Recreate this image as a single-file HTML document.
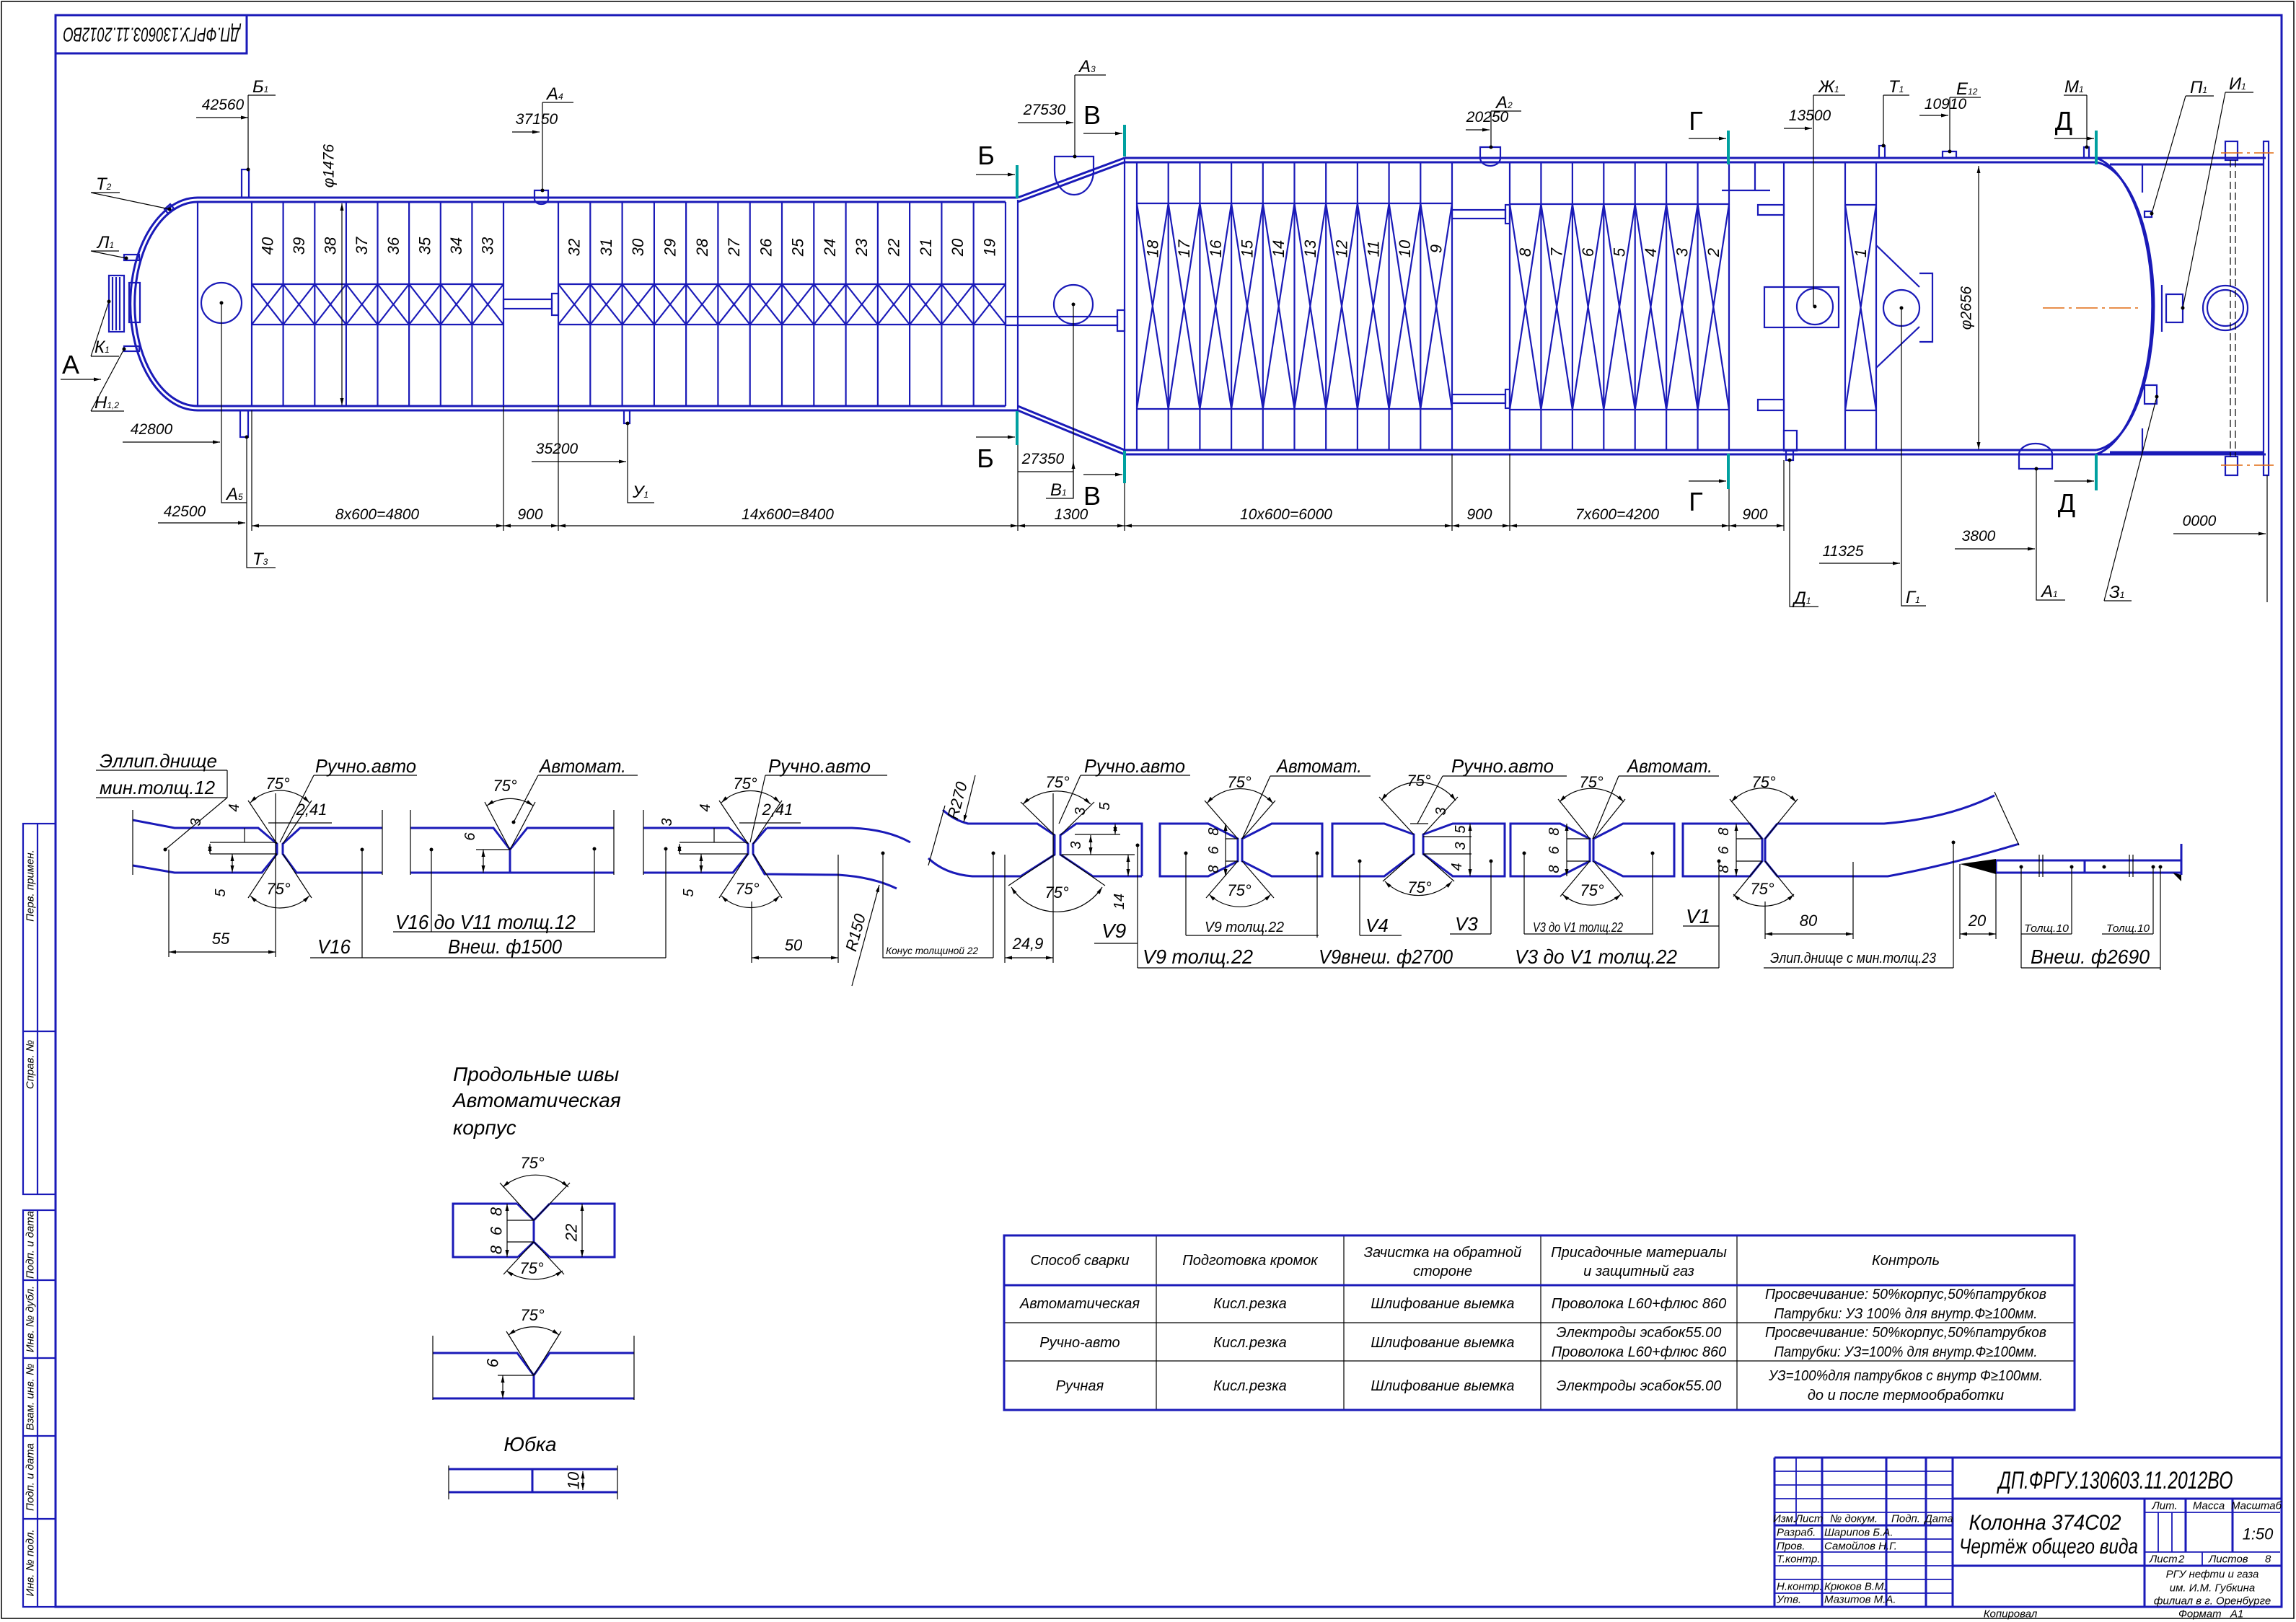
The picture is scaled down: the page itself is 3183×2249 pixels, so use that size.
<!DOCTYPE html>
<html><head><meta charset="utf-8"><style>
html,body{margin:0;padding:0;background:#fff}
svg{display:block}
.b{stroke:#1a1ab8;fill:none;stroke-width:3}
.b2{stroke:#1a1ab8;fill:none;stroke-width:2.2}
.k{stroke:#000;fill:none;stroke-width:1.2}
.tl{stroke:#00a0a0;fill:none;stroke-width:4}
.t{font-family:"Liberation Sans",sans-serif;font-style:italic;fill:#000}
.u{font-family:"Liberation Sans",sans-serif;fill:#000}
.or{stroke:#e06a10;stroke-width:1.5;fill:none;stroke-dasharray:30 6 4 6}
</style></head><body>
<svg width="3183" height="2249" viewBox="0 0 3183 2249" xmlns="http://www.w3.org/2000/svg">
<defs>
<marker id="a" viewBox="0 0 12 6" refX="12" refY="3" markerWidth="12" markerHeight="5" markerUnits="userSpaceOnUse" orient="auto-start-reverse"><path d="M0,0 L12,3 L0,6 z" fill="#000"/></marker>
</defs>
<rect width="3183" height="2249" fill="#fff"/>
<!-- frames -->
<rect x="2" y="2" width="3178" height="2242" fill="none" stroke="#000" stroke-width="1.5"/>
<rect x="77" y="21" width="3086" height="2207" class="b"/>
<rect x="77" y="21" width="265" height="53" class="b"/>
<text class="t" font-size="28" x="210" y="48" text-anchor="middle" dominant-baseline="central" textLength="245" lengthAdjust="spacingAndGlyphs" transform="rotate(180 210 48)">ДП.ФРГУ.130603.11.2012ВО</text>

<!-- left strips -->
<g class="b2">
<rect x="32" y="1142" width="45" height="514"/><path d="M52,1142V1656M32,1430H77"/>
<rect x="32" y="1678" width="45" height="550"/><path d="M52,1678V2228M32,1775H77M32,1883H77M32,1991H77M32,2106H77"/>
</g>
<g class="t" font-size="15" text-anchor="middle" dominant-baseline="central">
<text transform="translate(42,1228) rotate(-90)">Перв. примен.</text>
<text transform="translate(42,1476) rotate(-90)">Справ. №</text>
<text transform="translate(42,1726) rotate(-90)">Подп. и дата</text>
<text transform="translate(42,1829) rotate(-90)">Инв. № дубл.</text>
<text transform="translate(42,1937) rotate(-90)">Взам. инв. №</text>
<text transform="translate(42,2048) rotate(-90)">Подп. и дата</text>
<text transform="translate(42,2167) rotate(-90)">Инв. № подл.</text>
</g>

<!-- ===== COLUMN ===== -->
<g class="b">
<path d="M274,274H1411M274,280H1394M274,563H1394M274,569H1411"/>
<path d="M274,274A93,147 0 0 0 274,569"/>
<path d="M274,280A87,141 0 0 0 274,563"/>
<path d="M1411,274L1559,219M1411,280L1559,225M1411,569L1559,630M1411,563L1559,624"/>
<path d="M1559,219H3141M1559,225H2906M2925,228H3138M1559,624H2906M2925,627H3138M1559,630H3141"/>
<path d="M2906,219A92,208 0 0 1 2906,630"/>
<path d="M2906,225A86,200 0 0 1 2906,624"/>
</g>
<g class="b2">
<path d="M274,280V563M1394,280V563M1411,277V568M1559,219V630M1576,225V624"/>
<path d="M349,280V563M392.6,280V563M436.3,280V563M479.9,280V563M523.5,280V563M567.1,280V563M610.8,280V563M654.4,280V563M698,280V563"/>
<path d="M349,394H698M349,450H698"/>
<path d="M349,394L392.6,450L436.3,394L479.9,450L523.5,394L567.1,450L610.8,394L654.4,450L698,394M349,450L392.6,394L436.3,450L479.9,394L523.5,450L567.1,394L610.8,450L654.4,394L698,450"/>
<path d="M774,280V563M818.3,280V563M862.6,280V563M906.9,280V563M951.1,280V563M995.4,280V563M1039.7,280V563M1084,280V563M1128.3,280V563M1172.6,280V563M1216.9,280V563M1261.1,280V563M1305.4,280V563M1349.7,280V563"/>
<path d="M774,394H1394M774,450H1394"/>
<path d="M774,394L818.3,450L862.6,394L906.9,450L951.1,394L995.4,450L1039.7,394L1084,450L1128.3,394L1172.6,450L1216.9,394L1261.1,450L1305.4,394L1349.7,450L1394,394M774,450L818.3,394L862.6,450L906.9,394L951.1,450L995.4,394L1039.7,450L1084,394L1128.3,450L1172.6,394L1216.9,450L1261.1,394L1305.4,450L1349.7,394L1394,450"/>
<path d="M1619.7,225V624M1663.4,225V624M1707.1,225V624M1750.8,225V624M1794.5,225V624M1838.2,225V624M1881.9,225V624M1925.6,225V624M1969.3,225V624M2013,225V624"/>
<path d="M1576,282H2013M1576,567H2013"/>
<path d="M1576,282L1619.7,567L1663.4,282L1707.1,567L1750.8,282L1794.5,567L1838.2,282L1881.9,567L1925.6,282L1969.3,567L2013,282M1576,567L1619.7,282L1663.4,567L1707.1,282L1750.8,567L1794.5,282L1838.2,567L1881.9,282L1925.6,567L1969.3,282L2013,567"/>
<path d="M2093,225V624M2136.4,225V624M2179.9,225V624M2223.3,225V624M2266.7,225V624M2310.1,225V624M2353.6,225V624M2397,225V624"/>
<path d="M2093,283H2397M2093,568H2397"/>
<path d="M2093,283L2136.4,568L2179.9,283L2223.3,568L2266.7,283L2310.1,568L2353.6,283L2397,568M2093,568L2136.4,283L2179.9,568L2223.3,283L2266.7,568L2310.1,283L2353.6,568L2397,283"/>
<path d="M2387,264H2454M2433,225V264M2473,225V624M2558,225V624M2601,225V624"/>
<rect x="2437" y="284" width="36" height="14"/><rect x="2437" y="554" width="36" height="15"/>
<rect x="2446" y="398" width="103" height="56"/>
<circle cx="2516" cy="425" r="25"/>
<path d="M2558,284H2601M2558,569H2601M2558,284L2601,569M2601,284L2558,569"/>
<path d="M2601,340L2661,398M2601,510L2661,453M2661,379H2679V474H2661"/>
<circle cx="2636" cy="427" r="25"/>
<rect x="2473" y="597" width="18" height="28"/>
<path d="M2970,228V267M2970,594V627"/>
<rect x="3138" y="196" width="7" height="463"/>
<rect x="3085" y="196" width="17" height="26"/><rect x="3085" y="633" width="17" height="26"/>
<circle cx="3085" cy="427" r="31"/><circle cx="3085" cy="427" r="25"/>
<rect x="335" y="235" width="10" height="39"/>
<rect x="333" y="569" width="11" height="37"/>
<path d="M741,264H760V276A9.5,7 0 0 1 741,276Z"/>
<rect x="865" y="569" width="8" height="18"/>
<rect x="172" y="353" width="21" height="8"/>
<rect x="172" y="480" width="21" height="7"/>
<rect x="179" y="392" width="15" height="55"/>
<rect x="151" y="382" width="21" height="78"/>
<path d="M156,384V458M161,384V458M166,384V458"/>
<path d="M228,290L236,283L241,289L233,296Z"/>
<circle cx="307" cy="420" r="28"/>
<rect x="698" y="415" width="67" height="13"/><rect x="765" y="407" width="9" height="30"/>
<rect x="1394" y="439" width="155" height="12"/><rect x="1549" y="430" width="10" height="29"/>
<circle cx="1488" cy="422" r="27"/>
<path d="M1462,217H1516V237A27,33 0 0 1 1462,237Z"/>
<rect x="2013" y="291" width="74" height="12"/><rect x="2087" y="284" width="6" height="26"/>
<rect x="2013" y="547" width="74" height="12"/><rect x="2087" y="540" width="6" height="26"/>
<path d="M2052,204H2080V219A14,11 0 0 1 2052,219Z"/>
<rect x="2476" y="625" width="10" height="13"/>
<rect x="2605" y="202" width="8" height="17"/>
<rect x="2693" y="210" width="19" height="9"/>
<rect x="2889" y="204" width="7" height="15"/>
<path d="M2799,650V630A23,15 0 0 1 2845,630V650Z"/>
<rect x="3003" y="408" width="23" height="39"/><path d="M2997,395V460"/>
<rect x="2973" y="293" width="10" height="8"/>
<rect x="2973" y="534" width="17" height="26"/>
</g>
<path d="M3092,222V633M3099,222V633" stroke="#000" stroke-width="1.2" stroke-dasharray="10 5" fill="none"/>
<path class="or" d="M3079,212H3152M3079,645H3152M2832,427H2964"/>

<!-- tray numbers -->
<g class="t" font-size="22" text-anchor="middle" dominant-baseline="central">
<text transform="translate(370.8,341) rotate(-90)">40</text>
<text transform="translate(414.4,341) rotate(-90)">39</text>
<text transform="translate(458.1,341) rotate(-90)">38</text>
<text transform="translate(501.7,341) rotate(-90)">37</text>
<text transform="translate(545.3,341) rotate(-90)">36</text>
<text transform="translate(589,341) rotate(-90)">35</text>
<text transform="translate(632.6,341) rotate(-90)">34</text>
<text transform="translate(676.2,341) rotate(-90)">33</text>
<text transform="translate(796.1,343) rotate(-90)">32</text>
<text transform="translate(840.4,343) rotate(-90)">31</text>
<text transform="translate(884.7,343) rotate(-90)">30</text>
<text transform="translate(929,343) rotate(-90)">29</text>
<text transform="translate(973.3,343) rotate(-90)">28</text>
<text transform="translate(1017.6,343) rotate(-90)">27</text>
<text transform="translate(1061.9,343) rotate(-90)">26</text>
<text transform="translate(1106.1,343) rotate(-90)">25</text>
<text transform="translate(1150.4,343) rotate(-90)">24</text>
<text transform="translate(1194.7,343) rotate(-90)">23</text>
<text transform="translate(1239,343) rotate(-90)">22</text>
<text transform="translate(1283.3,343) rotate(-90)">21</text>
<text transform="translate(1327.6,343) rotate(-90)">20</text>
<text transform="translate(1371.9,343) rotate(-90)">19</text>
<text transform="translate(1597.9,345) rotate(-90)">18</text>
<text transform="translate(1641.6,345) rotate(-90)">17</text>
<text transform="translate(1685.3,345) rotate(-90)">16</text>
<text transform="translate(1729,345) rotate(-90)">15</text>
<text transform="translate(1772.7,345) rotate(-90)">14</text>
<text transform="translate(1816.4,345) rotate(-90)">13</text>
<text transform="translate(1860.1,345) rotate(-90)">12</text>
<text transform="translate(1903.8,345) rotate(-90)">11</text>
<text transform="translate(1947.5,345) rotate(-90)">10</text>
<text transform="translate(1991.2,345) rotate(-90)">9</text>
<text transform="translate(2114.7,350) rotate(-90)">8</text>
<text transform="translate(2158.1,350) rotate(-90)">7</text>
<text transform="translate(2201.6,350) rotate(-90)">6</text>
<text transform="translate(2245,350) rotate(-90)">5</text>
<text transform="translate(2288.4,350) rotate(-90)">4</text>
<text transform="translate(2331.9,350) rotate(-90)">3</text>
<text transform="translate(2375.3,350) rotate(-90)">2</text>
<text transform="translate(2579.5,351) rotate(-90)">1</text>
<text transform="translate(456,230) rotate(-90)" font-size="21">φ1476</text>
<text transform="translate(2726,427) rotate(-90)" font-size="21">φ2656</text>
</g>

<!-- section marks -->
<g class="tl"><path d="M1410,229V275M1410,570V617M1559,173V217M1559,625V670M2396,181V228M2396,629V678M2906,181V228M2906,630V680"/></g>
<g class="k" marker-end="url(#a)">
<path d="M1353,242H1407"/><path d="M1353,606H1407"/>
<path d="M1502,185H1556"/><path d="M1502,658H1556"/>
<path d="M2341,192H2393"/><path d="M2341,667H2393"/>
<path d="M2848,192H2903"/><path d="M2848,667H2903"/>
<path d="M84,526H140"/>
</g>
<g class="u" font-size="36" text-anchor="middle">
<text x="1367" y="228">Б</text><text x="1366" y="648">Б</text>
<text x="1514" y="172">В</text><text x="1514" y="700">В</text>
<text x="2351" y="180">Г</text><text x="2351" y="708">Г</text>
<text x="2861" y="180">Д</text><text x="2865" y="710">Д</text>
<text x="98" y="518">А</text>
</g>

<!-- leaders / dims top -->
<g class="k">
<path d="M344,132H382M344,132V235"/>
<path d="M752,142H795M752,142V264"/>
<path d="M126,267H166M126,267L235,290"/>
<path d="M126,348H165M126,348L175,358"/>
<path d="M126,494H165M126,494L151,418"/>
<path d="M126,570H172M126,570L172,484"/>
<path d="M307,420V697H342"/>
<path d="M342,606V787H382"/>
<path d="M870,587V697H907"/>
<path d="M1490,104H1533M1490,104V217"/>
<path d="M1488,422V691H1450M1411,654H1488"/>
<path d="M2067,154H2109M2067,154V204"/>
<path d="M2514,132H2558M2514,132V425"/>
<path d="M2611,132H2647M2611,132V202"/>
<path d="M2703,135H2746M2703,135V210"/>
<path d="M2861,132H2893M2893,132V204"/>
<path d="M3030,133H3069M3030,133L2983,296"/>
<path d="M3085,128H3124M3085,128L3026,427"/>
<path d="M2481,638V841H2521"/>
<path d="M2636,427V840H2670"/>
<path d="M2823,650V832H2863"/>
<path d="M2917,833H2955M2917,833L2990,550"/>
<path d="M3143,659V835"/>
<path d="M349,569V736M698,563V736M774,563V736M1411,617V736M1559,670V736M2013,630V736M2093,630V736M2397,678V736M2473,638V736"/>
</g>
<g class="k" marker-end="url(#a)">
<path d="M272,163H344"/><path d="M710,183H748"/><path d="M170,613H305"/><path d="M219,725H340"/>
<path d="M737,640H868"/><path d="M1411,170H1488"/><path d="M1488,690V640"/>
<path d="M2032,180H2065"/><path d="M2473,178H2512"/><path d="M2661,160H2701"/>
<path d="M2522,781H2634"/><path d="M2710,761H2821"/><path d="M3013,740H3141"/>
</g>
<g class="k" marker-start="url(#a)" marker-end="url(#a)">
<path d="M349,729H698"/><path d="M698,729H774"/><path d="M774,729H1411"/><path d="M1411,729H1559"/>
<path d="M1559,729H2013"/><path d="M2013,729H2093"/><path d="M2093,729H2397"/><path d="M2397,729H2473"/>
<path d="M474,282V562"/><path d="M2743,230V623"/>
</g>
<g class="t" font-size="21" text-anchor="middle">
<text x="309" y="152">42560</text><text x="744" y="172">37150</text>
<text x="210" y="602">42800</text><text x="256" y="716">42500</text>
<text x="772" y="629">35200</text>
<text x="1448" y="159">27530</text><text x="1446" y="643">27350</text>
<text x="2062" y="169">20250</text><text x="2509" y="167">13500</text><text x="2697" y="151">10910</text>
<text x="2555" y="771">11325</text><text x="2743" y="750">3800</text><text x="3049" y="729">0000</text>
<text x="523" y="720">8x600=4800</text><text x="735" y="720">900</text>
<text x="1092" y="720">14x600=8400</text><text x="1485" y="720">1300</text>
<text x="1783" y="720">10x600=6000</text><text x="2051" y="720">900</text>
<text x="2242" y="720">7x600=4200</text><text x="2433" y="720">900</text>
</g>
<g class="t" font-size="24">
<text x="350" y="128">Б<tspan font-size="12">1</tspan></text>
<text x="758" y="138">А<tspan font-size="12">4</tspan></text>
<text x="133" y="263">Т<tspan font-size="12">2</tspan></text>
<text x="135" y="344">Л<tspan font-size="12">1</tspan></text>
<text x="131" y="489">К<tspan font-size="12">1</tspan></text>
<text x="131" y="566">Н<tspan font-size="12">1,2</tspan></text>
<text x="314" y="693">А<tspan font-size="12">5</tspan></text>
<text x="350" y="783">Т<tspan font-size="12">3</tspan></text>
<text x="877" y="690">У<tspan font-size="12">1</tspan></text>
<text x="1496" y="100">А<tspan font-size="12">3</tspan></text>
<text x="1456" y="687">В<tspan font-size="12">1</tspan></text>
<text x="2074" y="150">А<tspan font-size="12">2</tspan></text>
<text x="2521" y="128">Ж<tspan font-size="12">1</tspan></text>
<text x="2618" y="128">Т<tspan font-size="12">1</tspan></text>
<text x="2712" y="131">Е<tspan font-size="12">12</tspan></text>
<text x="2862" y="128">М<tspan font-size="12">1</tspan></text>
<text x="3036" y="129">П<tspan font-size="12">1</tspan></text>
<text x="3090" y="124">И<tspan font-size="12">1</tspan></text>
<text x="2487" y="837">Д<tspan font-size="12">1</tspan></text>
<text x="2642" y="836">Г<tspan font-size="12">1</tspan></text>
<text x="2830" y="828">А<tspan font-size="12">1</tspan></text>
<text x="2924" y="829">З<tspan font-size="12">1</tspan></text>
</g>

<!-- ===== WELD DETAILS ROW ===== -->
<g class="b">
<path d="M184,1137L242,1148H358L384,1170V1184L363,1210H242L184,1200"/>
<path d="M530,1148H416L392,1170V1184L411,1210H530"/>
<path d="M569,1148H684L707,1178L731,1148H851M569,1210H851M707,1178V1210"/>
<path d="M892,1148H1010L1037,1170V1184L1016,1210H892"/>
<path d="M1063,1148L1044,1170V1184L1060,1212L1162,1213Q1210,1216 1243,1232M1063,1148H1181Q1230,1150 1262,1168"/>
<path d="M1307,1123Q1322,1137 1342,1142H1438L1462,1158V1185L1415,1215H1348Q1310,1212 1287,1190"/>
<path d="M1583,1215V1142H1492L1470,1158V1185L1515,1215H1583"/>
<path d="M1608,1142H1675L1716,1163V1194L1675,1215H1608Z"/>
<path d="M1833,1142H1763L1722,1163V1194L1763,1215H1833Z"/>
<path d="M1847,1142H1919L1960,1157V1184L1919,1215H1847Z"/>
<path d="M2086,1142H2014L1973,1157V1184L2014,1215H2086Z"/>
<path d="M2094,1142H2163L2204,1163V1194L2163,1215H2094Z"/>
<path d="M2321,1142H2250L2209,1163V1194L2250,1215H2321Z"/>
<path d="M2333,1142H2426L2443,1163V1194L2426,1215H2333Z"/>
<path d="M2464,1142L2447,1163V1194L2464,1215H2617Q2700,1200 2799,1170M2464,1142H2612Q2700,1135 2765,1103"/>
<path d="M2767,1193H3024M2767,1210H3024M2890,1193V1210M3024,1170V1213M2767,1193V1210"/>
</g>
<path d="M2717,1198L2767,1191V1212Z" fill="#000"/>
<path d="M3024,1213L3012,1210L3024,1222Z" fill="#000"/>
<g class="k">
<path d="M184,1123V1213M530,1123V1213M569,1123V1213M851,1123V1213M892,1123V1213M1287,1200L1310,1117M2765,1098L2799,1172"/>
<path d="M2827,1185V1216M2832,1185V1216M2952,1185V1216M2957,1185V1216"/>
<path d="M384,1170L344,1110M392,1170L432,1110M384,1184L344,1245M392,1184L432,1245"/>
<path d="M291,1168H384M291,1184H384M339,1148V1168M372,1141H460M133,1068H315M133,1106H315M315,1068V1106M315,1106L229,1178"/>
<path d="M435,1075H578M435,1075L388,1168"/>
<path d="M234,1178V1327M382,1100V1327M430,1328H923M502,1178V1328M923,1177V1328"/>
<path d="M707,1178L672,1112M707,1178L742,1112M660,1178H707M746,1075H884M746,1075L712,1140M545,1292H825M598,1178V1292M824,1177V1292"/>
<path d="M1037,1170L997,1110M1044,1170L1084,1110M1037,1184L997,1245M1044,1184L1084,1245"/>
<path d="M942,1168H1037M942,1184H1037M990,1148V1168M1025,1141H1110M1061,1075H1230M1061,1075L1040,1168"/>
<path d="M1162,1185V1335M1042,1250V1335M1224,1183V1328H1377M1377,1183V1328"/>
<path d="M1462,1158L1415,1112M1470,1158L1517,1112M1462,1185L1398,1228M1470,1185L1532,1228"/>
<path d="M1490,1157H1553M1472,1185H1573M1393,1185V1335M1460,1100V1335M1517,1308H1577M1577,1172V1342M1498,1075H1650M1498,1075L1468,1142"/>
<path d="M1716,1163L1670,1110M1722,1163L1768,1110M1716,1194L1672,1245M1722,1194L1766,1245"/>
<path d="M1699,1163H1716M1699,1194H1716M1761,1076H1900M1761,1076L1722,1163M1644,1297H1828M1644,1183V1297M1826,1183V1300"/>
<path d="M1960,1157L1912,1105M1973,1157L2021,1105M1960,1184L1917,1222M1973,1184L2016,1222"/>
<path d="M1973,1160H2040M1973,1184H2040M1955,1142H1980M2000,1076H2172M2000,1076L1965,1142M1885,1297H1943M1885,1194V1297M2010,1295H2067M2067,1194V1295"/>
<path d="M2204,1163L2160,1108M2209,1163L2253,1108M2204,1194L2163,1243M2209,1194L2250,1243"/>
<path d="M2172,1163H2204M2172,1194H2204M2244,1076H2383M2244,1076L2208,1163M2113,1295H2292M2113,1183V1295M2291,1183V1295"/>
<path d="M2443,1163L2398,1108M2447,1163L2492,1108M2443,1194L2403,1243M2447,1194L2487,1243"/>
<path d="M2407,1163H2443M2407,1194H2443M2333,1284H2383M2383,1194V1342M2569,1195V1302M2447,1250V1302M2445,1342H2708M2708,1168V1342"/>
<path d="M2717,1198V1302M2767,1210V1302M2802,1295H2872M2872,1202V1295M2914,1295H2985M2985,1202V1295M2802,1342H2995M2802,1202V1342M2995,1202V1345"/>
<path d="M1577,1342H2383"/>
<path marker-start="url(#a)" marker-end="url(#a)" d="M347,1113A58,58 0 0 1 429,1113"/>
<path marker-start="url(#a)" marker-end="url(#a)" d="M347,1242A58,58 0 0 0 429,1242"/>
<path marker-start="url(#a)" marker-end="url(#a)" d="M675,1117A58,58 0 0 1 739,1117"/>
<path marker-start="url(#a)" marker-end="url(#a)" d="M1000,1113A58,58 0 0 1 1081,1113"/>
<path marker-start="url(#a)" marker-end="url(#a)" d="M1000,1242A58,58 0 0 0 1081,1242"/>
<path marker-start="url(#a)" marker-end="url(#a)" d="M1418,1115A70,70 0 0 1 1512,1115"/>
<path marker-start="url(#a)" marker-end="url(#a)" d="M1402,1230A75,75 0 0 0 1528,1230"/>
<path marker-start="url(#a)" marker-end="url(#a)" d="M1673,1114A62,62 0 0 1 1765,1114"/>
<path marker-start="url(#a)" marker-end="url(#a)" d="M1676,1240A62,62 0 0 0 1762,1240"/>
<path marker-start="url(#a)" marker-end="url(#a)" d="M1915,1110A65,65 0 0 1 2018,1110"/>
<path marker-start="url(#a)" marker-end="url(#a)" d="M1920,1222A65,65 0 0 0 2013,1222"/>
<path marker-start="url(#a)" marker-end="url(#a)" d="M2162,1112A62,62 0 0 1 2251,1112"/>
<path marker-start="url(#a)" marker-end="url(#a)" d="M2166,1240A62,62 0 0 0 2247,1240"/>
<path marker-start="url(#a)" marker-end="url(#a)" d="M2400,1112A62,62 0 0 1 2490,1112"/>
<path marker-start="url(#a)" marker-end="url(#a)" d="M2403,1240A62,62 0 0 0 2487,1240"/>
<path marker-start="url(#a)" marker-end="url(#a)" d="M291,1170V1184"/>
<path marker-start="url(#a)" marker-end="url(#a)" d="M322,1184V1210"/>
<path marker-start="url(#a)" marker-end="url(#a)" d="M670,1178V1210"/>
<path marker-start="url(#a)" marker-end="url(#a)" d="M942,1170V1184"/>
<path marker-start="url(#a)" marker-end="url(#a)" d="M972,1184V1210"/>
<path marker-start="url(#a)" marker-end="url(#a)" d="M1546,1142V1157"/>
<path marker-start="url(#a)" marker-end="url(#a)" d="M1512,1158V1185"/>
<path marker-start="url(#a)" marker-end="url(#a)" d="M1564,1185V1215"/>
<path marker-start="url(#a)" marker-end="url(#a)" d="M1699,1142V1215"/>
<path marker-start="url(#a)" marker-end="url(#a)" d="M2038,1142V1215"/>
<path marker-start="url(#a)" marker-end="url(#a)" d="M2172,1142V1215"/>
<path marker-start="url(#a)" marker-end="url(#a)" d="M2407,1142V1215"/>
<path marker-start="url(#a)" marker-end="url(#a)" d="M234,1320H382"/>
<path marker-start="url(#a)" marker-end="url(#a)" d="M1042,1328H1162"/>
<path marker-start="url(#a)" marker-end="url(#a)" d="M1393,1328H1460"/>
<path marker-start="url(#a)" marker-end="url(#a)" d="M2447,1295H2569"/>
<path marker-start="url(#a)" marker-end="url(#a)" d="M2717,1295H2767"/>
<path marker-end="url(#a)" d="M1181,1367L1219,1227"/>
<path marker-end="url(#a)" d="M1352,1075L1336,1140"/>
</g>
<g class="t" font-size="22" text-anchor="middle">
<text x="385" y="1094">75°</text><text x="386" y="1240">75°</text>
<text x="700" y="1097">75°</text>
<text x="1033" y="1094">75°</text><text x="1036" y="1240">75°</text>
<text x="1466" y="1092">75°</text><text x="1465" y="1245">75°</text>
<text x="1718" y="1092">75°</text><text x="1718" y="1242">75°</text>
<text x="1967" y="1090">75°</text><text x="1968" y="1238">75°</text>
<text x="2206" y="1092">75°</text><text x="2207" y="1242">75°</text>
<text x="2445" y="1092">75°</text><text x="2443" y="1240">75°</text>
<text x="432" y="1130">2,41</text><text x="1078" y="1130">2,41</text>
<text x="306" y="1309">55</text><text x="1100" y="1318">50</text><text x="1425" y="1316">24,9</text>
<text x="2507" y="1284">80</text><text x="2741" y="1284">20</text>
</g>
<g class="t" font-size="20" text-anchor="middle" dominant-baseline="central">
<text transform="translate(272,1140) rotate(-90)">3</text>
<text transform="translate(325,1120) rotate(-90)">4</text>
<text transform="translate(306,1238) rotate(-90)">5</text>
<text transform="translate(652,1160) rotate(-90)">6</text>
<text transform="translate(925,1140) rotate(-90)">3</text>
<text transform="translate(978,1120) rotate(-90)">4</text>
<text transform="translate(955,1238) rotate(-90)">5</text>
<text transform="translate(1498,1125) rotate(-90)">3</text>
<text transform="translate(1532,1118) rotate(-90)">5</text>
<text transform="translate(1492,1172) rotate(-90)">3</text>
<text transform="translate(1552,1250) rotate(-90)">14</text>
<text transform="translate(1683,1153) rotate(-90)">8</text>
<text transform="translate(1683,1179) rotate(-90)">6</text>
<text transform="translate(1683,1205) rotate(-90)">8</text>
<text transform="translate(1998,1125) rotate(-90)">3</text>
<text transform="translate(2025,1150) rotate(-90)">5</text>
<text transform="translate(2025,1173) rotate(-90)">3</text>
<text transform="translate(2020,1202) rotate(-90)">4</text>
<text transform="translate(2155,1153) rotate(-90)">8</text>
<text transform="translate(2155,1179) rotate(-90)">6</text>
<text transform="translate(2155,1205) rotate(-90)">8</text>
<text transform="translate(2390,1153) rotate(-90)">8</text>
<text transform="translate(2390,1179) rotate(-90)">6</text>
<text transform="translate(2390,1205) rotate(-90)">8</text>
<text transform="translate(1186,1293) rotate(-75)" font-size="22">R150</text>
<text transform="translate(1327,1110) rotate(-75)" font-size="22">R270</text>
</g>
<g class="t" font-size="26">
<text x="138" y="1064" textLength="163" lengthAdjust="spacingAndGlyphs">Эллип.днище</text>
<text x="138" y="1101" textLength="160" lengthAdjust="spacingAndGlyphs">мин.толщ.12</text>
<text x="437" y="1071" textLength="140" lengthAdjust="spacingAndGlyphs">Ручно.авто</text>
<text x="748" y="1071" textLength="120" lengthAdjust="spacingAndGlyphs">Автомат.</text>
<text x="1065" y="1071" textLength="142" lengthAdjust="spacingAndGlyphs">Ручно.авто</text>
<text x="1503" y="1071" textLength="140" lengthAdjust="spacingAndGlyphs">Ручно.авто</text>
<text x="1770" y="1071" textLength="118" lengthAdjust="spacingAndGlyphs">Автомат.</text>
<text x="2012" y="1071" textLength="142" lengthAdjust="spacingAndGlyphs">Ручно.авто</text>
<text x="2256" y="1071" textLength="118" lengthAdjust="spacingAndGlyphs">Автомат.</text>
<text x="548" y="1288" font-size="28" textLength="250" lengthAdjust="spacingAndGlyphs">V16 до V11 толщ.12</text>
<text x="440" y="1322" font-size="28" textLength="46" lengthAdjust="spacingAndGlyphs">V16</text>
<text x="621" y="1322" font-size="28" textLength="158" lengthAdjust="spacingAndGlyphs">Внеш. ф1500</text>
<text x="1228" y="1323" font-size="14" textLength="128" lengthAdjust="spacingAndGlyphs">Конус толщиной 22</text>
<text x="1527" y="1300" font-size="28">V9</text>
<text x="1670" y="1292" font-size="20" textLength="110" lengthAdjust="spacingAndGlyphs">V9 толщ.22</text>
<text x="1893" y="1292" font-size="26">V4</text>
<text x="2017" y="1290" font-size="26">V3</text>
<text x="2125" y="1292" font-size="18" textLength="125" lengthAdjust="spacingAndGlyphs">V3 до V1 толщ.22</text>
<text x="2337" y="1280" font-size="28">V1</text>
<text x="1584" y="1336" font-size="28" textLength="153" lengthAdjust="spacingAndGlyphs">V9 толщ.22</text>
<text x="1828" y="1336" font-size="28" textLength="186" lengthAdjust="spacingAndGlyphs">V9внеш. ф2700</text>
<text x="2100" y="1336" font-size="28" textLength="225" lengthAdjust="spacingAndGlyphs">V3 до V1 толщ.22</text>
<text x="2454" y="1335" font-size="20" textLength="230" lengthAdjust="spacingAndGlyphs">Элип.днище с мин.толщ.23</text>
<text x="2806" y="1292" font-size="15" textLength="62" lengthAdjust="spacingAndGlyphs">Толщ.10</text>
<text x="2920" y="1292" font-size="15" textLength="60" lengthAdjust="spacingAndGlyphs">Толщ.10</text>
<text x="2815" y="1336" font-size="28" textLength="165" lengthAdjust="spacingAndGlyphs">Внеш. ф2690</text>
</g>
<g fill="#000">
<circle cx="229" cy="1178" r="2.5"/><circle cx="502" cy="1178" r="2.5"/><circle cx="598" cy="1178" r="2.5"/><circle cx="712" cy="1140" r="2.5"/>
<circle cx="824" cy="1177" r="2.5"/><circle cx="923" cy="1177" r="2.5"/><circle cx="1224" cy="1183" r="2.5"/><circle cx="1377" cy="1183" r="2.5"/>
<circle cx="1577" cy="1172" r="2.5"/><circle cx="1644" cy="1183" r="2.5"/><circle cx="1826" cy="1183" r="2.5"/><circle cx="1885" cy="1194" r="2.5"/>
<circle cx="2067" cy="1194" r="2.5"/><circle cx="2113" cy="1183" r="2.5"/><circle cx="2291" cy="1183" r="2.5"/><circle cx="2383" cy="1194" r="2.5"/>
<circle cx="2708" cy="1168" r="2.5"/><circle cx="2802" cy="1202" r="2.5"/><circle cx="2872" cy="1202" r="2.5"/><circle cx="2917" cy="1202" r="2.5"/>
<circle cx="2985" cy="1202" r="2.5"/><circle cx="2995" cy="1202" r="2.5"/>
<circle cx="344" cy="235" r="2.5"/><circle cx="752" cy="264" r="2.5"/><circle cx="307" cy="420" r="2.5"/><circle cx="342" cy="606" r="2.5"/>
<circle cx="870" cy="587" r="2.5"/><circle cx="1488" cy="422" r="2.5"/><circle cx="1490" cy="217" r="2.5"/><circle cx="2067" cy="204" r="2.5"/>
<circle cx="2516" cy="425" r="2.5"/><circle cx="2611" cy="202" r="2.5"/><circle cx="2703" cy="210" r="2.5"/><circle cx="2893" cy="204" r="2.5"/>
<circle cx="2983" cy="296" r="2.5"/><circle cx="3026" cy="427" r="2.5"/><circle cx="2481" cy="638" r="2.5"/><circle cx="2636" cy="427" r="2.5"/>
<circle cx="2823" cy="650" r="2.5"/><circle cx="2990" cy="550" r="2.5"/><circle cx="235" cy="290" r="2.5"/><circle cx="175" cy="358" r="2.5"/>
<circle cx="151" cy="418" r="2.5"/><circle cx="172" cy="484" r="2.5"/>
</g>

<!-- ===== LONGITUDINAL WELDS ===== -->
<g class="t" font-size="28">
<text x="628" y="1499">Продольные швы</text>
<text x="628" y="1535">Автоматическая</text>
<text x="628" y="1573">корпус</text>
<text x="735" y="2012" text-anchor="middle">Юбка</text>
</g>
<g class="b">
<path d="M717,1669H628V1743H718M762,1669H852V1743H762"/>
<path d="M717,1669L740,1692V1722L718,1743M762,1669L740,1692M740,1722L762,1743"/>
<path d="M600,1876H717L740,1907L762,1876H879M600,1939H879M740,1907V1939"/>
<path d="M622,2037H856M622,2069H856M738,2037V2069"/>
</g>
<g class="k">
<path d="M740,1692L693,1640M740,1692L790,1640M740,1722L698,1767M740,1722L782,1767"/>
<path d="M703,1692H740M703,1722H740"/>
<path d="M740,1907L702,1846M740,1907L778,1846M690,1907H740"/>
<path d="M600,1852V1941M879,1852V1941M622,2032V2079M856,2032V2079"/>
<path marker-start="url(#a)" marker-end="url(#a)" d="M697,1646A70,70 0 0 1 788,1646"/>
<path marker-start="url(#a)" marker-end="url(#a)" d="M702,1762A70,70 0 0 0 780,1762"/>
<path marker-start="url(#a)" marker-end="url(#a)" d="M705,1851A60,60 0 0 1 775,1851"/>
<path marker-start="url(#a)" marker-end="url(#a)" d="M703,1669V1743"/>
<path marker-start="url(#a)" marker-end="url(#a)" d="M807,1669V1743"/>
<path marker-start="url(#a)" marker-end="url(#a)" d="M697,1907V1939"/>
<path marker-start="url(#a)" marker-end="url(#a)" d="M808,2040V2066"/>
</g>
<g class="t" font-size="22" text-anchor="middle">
<text x="738" y="1620">75°</text><text x="737" y="1766">75°</text><text x="738" y="1831">75°</text>
</g>
<g class="t" font-size="22" text-anchor="middle" dominant-baseline="central">
<text transform="translate(688,1680) rotate(-90)">8</text>
<text transform="translate(688,1707) rotate(-90)">6</text>
<text transform="translate(688,1733) rotate(-90)">8</text>
<text transform="translate(792,1709) rotate(-90)">22</text>
<text transform="translate(683,1890) rotate(-90)">6</text>
<text transform="translate(795,2053) rotate(-90)">10</text>
</g>

<!-- ===== TABLE ===== -->
<g class="k">
<path d="M1392,1834H2876M1392,1887H2876M1603,1713V1955M1863,1713V1955M2136,1713V1955M2408,1713V1955"/>
</g>
<rect x="1392" y="1713" width="1484" height="242" class="b"/>
<path d="M1392,1782H2876" class="b"/>
<g class="t" font-size="20" text-anchor="middle" dominant-baseline="central">
<text x="1497" y="1748">Способ сварки</text>
<text x="1733" y="1748">Подготовка кромок</text>
<text x="2000" y="1737">Зачистка на обратной</text>
<text x="2000" y="1763">стороне</text>
<text x="2272" y="1737">Присадочные материалы</text>
<text x="2272" y="1763">и защитный газ</text>
<text x="2642" y="1748">Контроль</text>
<text x="1497" y="1808">Автоматическая</text>
<text x="1733" y="1808">Кисл.резка</text>
<text x="2000" y="1808">Шлифование выемка</text>
<text x="2272" y="1808">Проволока L60+флюс 860</text>
<text x="2642" y="1795" textLength="390" lengthAdjust="spacingAndGlyphs">Просвечивание: 50%корпус,50%патрубков</text>
<text x="2642" y="1822" textLength="365" lengthAdjust="spacingAndGlyphs">Патрубки: УЗ 100% для внутр.Ф≥100мм.</text>
<text x="1497" y="1862">Ручно-авто</text>
<text x="1733" y="1862">Кисл.резка</text>
<text x="2000" y="1862">Шлифование выемка</text>
<text x="2272" y="1848">Электроды эсабок55.00</text>
<text x="2272" y="1875">Проволока L60+флюс 860</text>
<text x="2642" y="1848" textLength="390" lengthAdjust="spacingAndGlyphs">Просвечивание: 50%корпус,50%патрубков</text>
<text x="2642" y="1875" textLength="365" lengthAdjust="spacingAndGlyphs">Патрубки: УЗ=100% для внутр.Ф≥100мм.</text>
<text x="1497" y="1922">Ручная</text>
<text x="1733" y="1922">Кисл.резка</text>
<text x="2000" y="1922">Шлифование выемка</text>
<text x="2272" y="1922">Электроды эсабок55.00</text>
<text x="2642" y="1908" textLength="380" lengthAdjust="spacingAndGlyphs">УЗ=100%для патрубков с внутр Ф≥100мм.</text>
<text x="2642" y="1935">до и после термообработки</text>
</g>

<!-- ===== TITLE BLOCK ===== -->
<g stroke="#1a1ab8" fill="none" stroke-width="1.8">
<path d="M2460,2040H2707M2460,2059H2707M2460,2078H2707M2460,2097H2707M2460,2134H2707M2460,2152H2707M2460,2171H2707M2460,2190H2707M2460,2209H2707"/>
<path d="M2490,2021V2115M2992,2097V2152M3011,2097V2152M2973,2097H3161M2973,2152H3161M3053,2152V2171"/>
</g>
<g class="b">
<path d="M2460,2021H3163M2460,2021V2228M2526,2021V2228M2615,2021V2228M2670,2021V2228M2707,2021V2228"/>
<path d="M2460,2115H2707M2707,2078H3163M2707,2171H3163M2973,2078V2228M3030,2078V2152M3095,2078V2152"/>
</g>
<text class="t" font-size="34" x="2933" y="2064" text-anchor="middle" textLength="325" lengthAdjust="spacingAndGlyphs">ДП.ФРГУ.130603.11.2012ВО</text>
<text class="t" font-size="30" x="2835" y="2121" text-anchor="middle" textLength="211" lengthAdjust="spacingAndGlyphs">Колонна 374С02</text>
<text class="t" font-size="30" x="2840" y="2154" text-anchor="middle" textLength="248" lengthAdjust="spacingAndGlyphs">Чертёж общего вида</text>
<g class="t" font-size="15" text-anchor="middle" dominant-baseline="central">
<text x="3001" y="2088">Лит.</text><text x="3062" y="2088">Масса</text><text x="3128" y="2088">Масштаб</text>
<text x="3130" y="2127" font-size="22">1:50</text>
<text x="3067" y="2183">РГУ нефти и газа</text>
<text x="3067" y="2202">им. И.М. Губкина</text>
<text x="3067" y="2220">филиал в г. Оренбурге</text>
<text x="2474" y="2106">Изм.</text><text x="2508" y="2106">Лист</text><text x="2570" y="2106">№ докум.</text>
<text x="2642" y="2106">Подп.</text><text x="2688" y="2106">Дата</text>
<text x="2787" y="2238">Копировал</text>
</g>
<g class="t" font-size="15" dominant-baseline="central">
<text x="2980" y="2162">Лист</text><text x="3020" y="2162">2</text>
<text x="3062" y="2162">Листов</text><text x="3140" y="2162">8</text>
<text x="3020" y="2238">Формат</text><text x="3092" y="2238">А1</text>
<text x="2463" y="2125">Разраб.</text><text x="2529" y="2125">Шарипов Б.А.</text>
<text x="2463" y="2144">Пров.</text><text x="2529" y="2144">Самойлов Н.Г.</text>
<text x="2463" y="2162">Т.контр.</text>
<text x="2463" y="2200">Н.контр.</text><text x="2529" y="2200">Крюков В.М.</text>
<text x="2463" y="2218">Утв.</text><text x="2529" y="2218">Мазитов М.А.</text>
</g>
</svg>
</body></html>
